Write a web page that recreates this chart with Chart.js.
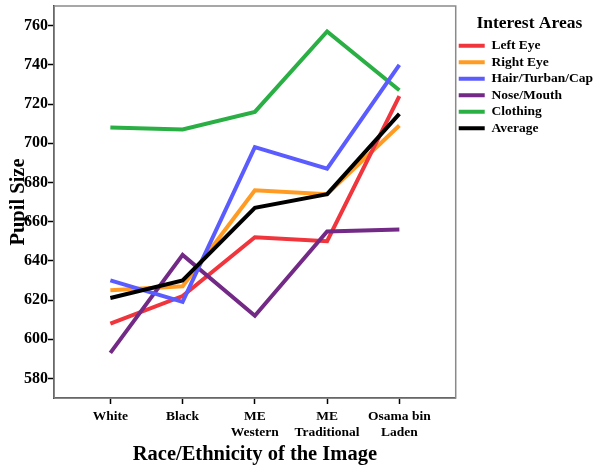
<!DOCTYPE html>
<html>
<head>
<meta charset="utf-8">
<script src="https://cdn.jsdelivr.net/npm/chart.js@4"></script>
<style>
	html, body { margin: 0; padding: 0; background: #fff; }
	#wrap { width: 602px; height: 470px; overflow: hidden; }
</style>
</head>
<body>
<div id="wrap"><canvas id="pupil-chart" width="602" height="470"></canvas></div>
<script>
// categories on the x axis
var categories = [['White'], ['Black'], ['ME', 'Western'], ['ME', 'Traditional'], ['Osama bin', 'Laden']];
var yTicks = [580, 600, 620, 640, 660, 680, 700, 720, 740, 760];

// series values
var leftEye = [608, 622, 652, 650, 724];
var rightEye = [625, 627, 676, 674, 709];
var hairTurbanCap = [630, 619, 698, 687, 740];
var noseMouth = [593, 643, 612, 655, 656];
var clothing = [708, 707, 716, 757, 727];
var average = [621, 630, 667, 674, 715];

var serif = "'Liberation Serif', 'Times New Roman', serif";

function pts(values) {
	var out = [];
	for (var i = 0; i < values.length; i++) {
		out.push({x: i, y: values[i]});
	}
	return out;
}

function line(label, values, color, order) {
	return {
		label: label,
		data: pts(values),
		borderColor: color,
		backgroundColor: color,
		borderWidth: 4,
		pointRadius: 0,
		tension: 0,
		order: order
	};
}

// grey box round the plot area
var frame = {
	id: 'frame',
	beforeDatasetsDraw: function(chart) {
		var a = chart.chartArea, c = chart.ctx;
		c.save();
		c.strokeStyle = '#8a8a8a';
		c.lineWidth = 1.5;
		c.strokeRect(a.left, a.top, a.right - a.left, a.bottom - a.top);
		c.restore();
	}
};

var ctx = document.getElementById('pupil-chart').getContext('2d');
var chart = new Chart(ctx, {
	type: 'line',
	data: {
		datasets: [
			line('Left Eye', leftEye, '#f0353c', 2),
			line('Right Eye', rightEye, '#ff9b22', 3),
			line('Hair/Turban/Cap', hairTurbanCap, '#5b5cff', 1),
			line('Nose/Mouth', noseMouth, '#732a86', 1),
			line('Clothing', clothing, '#2aaf44', 4),
			line('Average', average, '#000000', 0)
		]
	},
	plugins: [frame],
	options: {
		responsive: false,
		animation: false,
		layout: {padding: {top: 6, left: 0, right: -1, bottom: 0}},
		plugins: {
			tooltip: {enabled: false},
			legend: {
				position: 'right',
				align: 'start',
				title: {
					display: true,
					text: 'Interest Areas',
					color: '#000',
					font: {family: serif, size: 17.5, weight: 'bold'},
					padding: {top: 9, bottom: 0}
				},
				labels: {
					boxWidth: 26,
					boxHeight: 4,
					padding: 3,
					color: '#000',
					font: {family: serif, size: 13.5, weight: 'bold'},
					sort: function(a, b) { return a.datasetIndex - b.datasetIndex; },
					generateLabels: function(ch) {
						var items = Chart.defaults.plugins.legend.labels.generateLabels(ch);
						items.forEach(function(it) {
							it.fillStyle = it.strokeStyle;
							it.lineWidth = 0;
						});
						return items;
					}
				}
			}
		},
		scales: {
			x: {
				type: 'linear',
				min: -0.78,
				max: 4.78,
				afterBuildTicks: function(axis) {
					axis.ticks = categories.map(function(c, i) { return {value: i}; });
				},
				afterFit: function(axis) {
					axis.height = 72;
					axis.paddingLeft = 0;
					axis.paddingRight = 0;
				},
				border: {display: true, color: '#000', width: 1.5},
				grid: {drawOnChartArea: false, drawTicks: true, tickLength: 6, color: '#000', tickWidth: 1.5},
				ticks: {
					autoSkip: false,
					maxRotation: 0,
					padding: 4,
					color: '#000',
					font: {family: serif, size: 13.5, weight: 'bold'},
					callback: function(v) { return categories[v]; }
				},
				title: {
					display: true,
					text: 'Race/Ethnicity of the Image',
					color: '#000',
					font: {family: serif, size: 20.5, weight: 'bold'},
					padding: {top: 0, bottom: 3}
				}
			},
			y: {
				min: 570,
				max: 770,
				afterBuildTicks: function(axis) {
					axis.ticks = yTicks.map(function(v) { return {value: v}; });
				},
				afterFit: function(axis) {
					axis.width = 54;
					axis.paddingTop = 0;
					axis.paddingBottom = 0;
				},
				border: {display: true, color: '#000', width: 1.5},
				grid: {drawOnChartArea: false, drawTicks: true, tickLength: 6, color: '#000', tickWidth: 1.5},
				ticks: {
					padding: 0,
					color: '#000',
					font: {family: serif, size: 16, weight: 'bold'}
				},
				title: {
					display: true,
					text: 'Pupil Size',
					color: '#000',
					font: {family: serif, size: 20.5, weight: 'bold'},
					padding: {top: 6, bottom: 0}
				}
			}
		}
	}
});
</script>
</body>
</html>
